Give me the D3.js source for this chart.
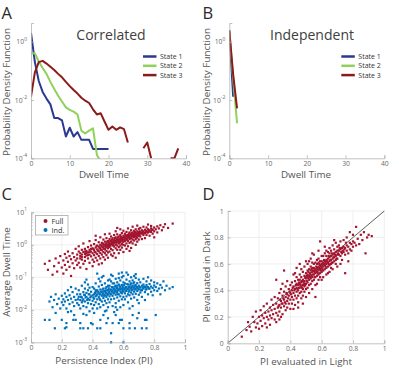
<!DOCTYPE html>
<html>
<head>
<meta charset="utf-8">
<script src="https://cdnjs.cloudflare.com/ajax/libs/d3/7.8.5/d3.min.js"></script>
<style>
body { margin: 0; background: #fff; }
svg { display: block; font-family: "Open Sans", sans-serif; }
</style>
</head>
<body>
<div id="canvas"></div>
<script>
"use strict"

/* ---- panel A / B : dwell time histograms (probability density) ---- */
let stateNames = ["State 1", "State 2", "State 3"];
let dwellTicks = [0, 10, 20, 30, 40];
let pdfTicks = [1e-4, 1e-2, 1];

let corrState1 = [2.0, 0.2, 0.045, 0.019, 0.0112, 0.0071, 0.0024, 0.0024, 0.002, 0.00056, 0.00112,
    0.00056, 0.00079, 0.00043, 0.00043, 0.00043, 0.00021, 0.00021, 0.00021, 0.00021, 0.00021];
let corrState2 = [0.4, 0.4, 0.21, 0.126, 0.079, 0.042, 0.024, 0.014, 0.0089, 0.0056, 0.0046,
    0.004, 0.0032, 0.00089, 0.00071, 0.00089, 0.00107, 0.00013, 0.00008];
let corrState3 = [0.013, 0.089, 0.2, 0.22, 0.178, 0.138, 0.107, 0.079, 0.06, 0.042, 0.03,
    0.022, 0.0166, 0.012, 0.0095, 0.0079, 0.0048, 0.0032, 0.0035, 0.0018, 0.00095,
    0.00123, 0.00095, 0.00115, 0.001, 0.00035, null, null, null, 0.00022, 0.00035,
    0.0001, null, null, null, null, 0.0001, 0.0001, 0.00022];

let indState1 = [2.5, 0.013];
let indState2 = [2.3, 0.055, 0.0016];
let indState3 = [2.4, 0.075, 0.0052];

/* ---- panel C : persistence index vs average dwell time ---- */
let scatterLegend = ["Full", "Ind."];
let piTicks = [0, 0.2, 0.4, 0.6, 0.8, 1];
let avgDwellTicks = [1e-3, 1e-2, 1e-1, 1, 10];

let fullPoints = [
[0.09,0.26],[0.11,0.17],[0.12,0.32],[0.14,0.12],[0.15,0.22],[0.16,0.38],[0.17,0.15],[0.18,0.28],[0.19,0.45],[0.2,0.2],
[0.21,0.33],[0.21,0.13],[0.22,0.52],[0.22,0.24],[0.23,0.4],[0.23,0.17],[0.24,0.3],[0.24,0.62],[0.25,0.21],[0.25,0.45],
[0.26,0.36],[0.26,0.11],[0.27,0.55],[0.27,0.27],[0.28,0.42],[0.28,0.19],[0.29,0.75],[0.29,0.33],[0.3,0.5],[0.3,0.24],
[0.3,0.38],[0.31,0.62],[0.31,0.28],[0.31,0.9],[0.32,0.45],[0.32,0.2],[0.32,0.55],[0.33,0.35],[0.33,0.7],[0.33,0.5],
[0.34,0.26],[0.34,0.6],[0.34,1.1],[0.35,0.42],[0.35,0.75],[0.35,0.52],[0.35,0.32],[0.36,0.65],[0.36,0.18],[0.36,0.47],
[0.37,0.85],[0.37,0.58],[0.37,0.38],[0.38,0.7],[0.38,0.5],[0.38,1.3],[0.38,0.28],[0.39,0.62],[0.39,0.44],[0.39,0.95],
[0.4,0.55],[0.4,0.35],[0.4,0.78],[0.4,0.22],
[0.41,0.68],[0.41,0.48],[0.41,1.05],[0.41,0.3],[0.42,0.82],[0.42,0.58],[0.42,1.4],[0.42,0.4],[0.43,0.72],[0.43,0.95],
[0.43,0.52],[0.43,0.33],[0.44,0.88],[0.44,0.63],[0.44,1.2],[0.44,0.45],[0.45,0.78],[0.45,1.0],[0.45,0.56],[0.45,1.7],
[0.45,0.38],[0.46,0.9],[0.46,0.68],[0.46,1.15],[0.46,0.5],[0.46,0.27],[0.47,0.82],[0.47,1.05],[0.47,0.6],[0.47,1.45],
[0.47,0.42],[0.48,0.95],[0.48,0.72],[0.48,1.25],[0.48,0.55],[0.48,2.1],[0.48,0.35],[0.49,0.88],[0.49,1.1],[0.49,0.65],
[0.49,1.6],[0.49,0.48],[0.5,1.0],[0.5,0.78],[0.5,1.3],[0.5,0.58],[0.5,0.9],[0.5,0.4],[0.44,0.25],[0.42,1.9],
[0.51,1.15],[0.51,0.85],[0.51,1.5],[0.51,0.62],[0.51,2.2],[0.52,1.05],[0.52,1.3],[0.52,0.75],[0.52,1.8],[0.52,0.5],
[0.53,1.2],[0.53,0.95],[0.53,1.6],[0.53,0.68],[0.53,1.1],[0.54,1.4],[0.54,0.88],[0.54,2.0],[0.54,1.15],[0.54,0.55],
[0.55,1.3],[0.55,1.0],[0.55,1.7],[0.55,0.78],[0.55,2.6],[0.55,0.4],[0.56,1.25],[0.56,1.5],[0.56,0.95],[0.56,2.1],
[0.56,0.7],[0.57,1.4],[0.57,1.1],[0.57,1.8],[0.57,0.85],[0.57,1.25],[0.57,0.55],[0.58,1.5],[0.58,1.2],[0.58,2.0],
[0.58,0.95],[0.58,3.0],[0.58,0.7],[0.59,1.35],[0.59,1.65],[0.59,1.05],[0.59,2.3],[0.59,0.82],[0.6,1.55],[0.6,1.25],
[0.6,1.9],[0.6,1.0],[0.6,2.7],[0.6,0.6],[0.53,0.45],[0.56,3.3],[0.51,1.0],[0.59,1.45],
[0.61,1.7],[0.61,1.3],[0.61,2.2],[0.61,0.95],[0.62,1.85],[0.62,1.5],[0.62,2.5],[0.62,1.1],[0.62,0.75],[0.63,1.65],
[0.63,2.0],[0.63,1.3],[0.63,3.2],[0.63,0.9],[0.64,1.9],[0.64,1.5],[0.64,2.4],[0.64,1.15],[0.64,1.75],[0.65,2.1],
[0.65,1.6],[0.65,2.8],[0.65,1.25],[0.65,0.8],[0.66,1.95],[0.66,2.4],[0.66,1.45],[0.66,3.6],[0.66,1.1],[0.67,2.2],
[0.67,1.75],[0.67,2.7],[0.67,1.35],[0.67,2.0],[0.68,2.3],[0.68,1.85],[0.68,3.0],[0.68,1.5],[0.68,1.0],[0.69,2.1],
[0.69,2.6],[0.69,1.65],[0.69,3.9],[0.69,1.25],[0.7,2.4],[0.7,1.9],[0.7,3.1],[0.7,1.45],[0.7,2.15],[0.64,0.65],
[0.71,2.5],[0.71,1.8],[0.71,3.3],[0.72,2.2],[0.72,2.8],[0.72,1.5],[0.73,2.6],[0.73,3.6],[0.73,2.0],[0.74,2.9],
[0.74,2.3],[0.74,1.6],[0.75,2.7],[0.75,3.4],[0.75,2.0],[0.76,3.0],[0.76,2.4],[0.76,4.2],[0.77,2.8],[0.77,1.9],
[0.78,3.2],[0.78,2.5],[0.78,3.8],[0.79,2.9],[0.79,2.2],[0.8,3.4],[0.8,2.6],[0.8,1.7],
[0.81,3.0],[0.82,3.7],[0.82,2.4],[0.83,3.2],[0.84,4.0],[0.85,2.8],[0.86,3.5],[0.87,4.3],[0.89,3.3],[0.92,4.5],
// dense core
[0.405,0.74],[0.415,0.6],[0.425,0.9],[0.435,0.66],[0.445,0.78],[0.455,0.95],[0.455,0.7],[0.465,0.84],[0.465,1.1],[0.475,0.75],
[0.475,0.95],[0.485,1.05],[0.485,0.82],[0.495,0.98],[0.495,1.25],[0.505,0.88],[0.505,1.12],[0.515,1.3],[0.515,0.95],[0.525,1.15],
[0.525,1.45],[0.535,1.0],[0.535,1.3],[0.545,1.22],[0.545,1.6],[0.555,1.15],[0.555,1.45],[0.565,1.35],[0.565,1.7],[0.575,1.2],
[0.575,1.55],[0.585,1.4],[0.585,1.75],[0.595,1.25],[0.595,1.6],[0.605,1.45],[0.605,1.8],[0.615,1.55],[0.615,2.0],[0.625,1.4],
[0.625,1.7],[0.635,1.8],[0.635,2.2],[0.645,1.6],[0.645,2.0],[0.655,1.85],[0.655,2.3],[0.665,1.7],[0.665,2.1],[0.675,1.95],
[0.675,2.45],[0.685,2.15],[0.685,1.75],[0.695,2.35],[0.695,1.95],[0.705,2.6],[0.705,2.05],[0.715,2.3],[0.725,2.5],[0.735,2.3],
[0.745,2.55],[0.755,2.4],[0.765,2.7],[0.775,2.5],[0.785,2.9],[0.38,0.6],[0.39,0.75],[0.37,0.48],[0.36,0.56],[0.35,0.62],
[0.33,0.42],[0.32,0.38]
];

let indPoints = [
[0.12,0.018],[0.13,0.025],[0.14,0.012],[0.15,0.02],[0.16,0.03],[0.17,0.015],[0.18,0.022],[0.19,0.011],[0.2,0.027],[0.2,0.017],
[0.21,0.021],[0.21,0.014],[0.22,0.032],[0.22,0.018],[0.23,0.025],[0.23,0.011],[0.24,0.04],[0.24,0.02],[0.25,0.015],[0.25,0.028],
[0.26,0.022],[0.26,0.009],[0.27,0.035],[0.27,0.017],[0.28,0.025],[0.28,0.013],[0.29,0.045],[0.29,0.02],[0.3,0.03],[0.3,0.016],
[0.26,0.05],[0.24,0.0085],
[0.31,0.025],[0.31,0.014],[0.31,0.04],[0.32,0.02],[0.32,0.03],[0.32,0.011],[0.33,0.055],[0.33,0.024],[0.33,0.017],[0.34,0.035],
[0.34,0.021],[0.34,0.013],[0.35,0.028],[0.35,0.045],[0.35,0.018],[0.35,0.07],[0.36,0.025],[0.36,0.033],[0.36,0.012],[0.37,0.022],
[0.37,0.04],[0.37,0.016],[0.37,0.06],[0.38,0.03],[0.38,0.02],[0.38,0.009],[0.38,0.048],[0.39,0.026],[0.39,0.036],[0.39,0.015],
[0.4,0.028],[0.4,0.05],[0.4,0.019],[0.4,0.011],[0.36,0.085],[0.34,0.0075],
[0.41,0.03],[0.41,0.022],[0.41,0.045],[0.41,0.014],[0.42,0.035],[0.42,0.026],[0.42,0.065],[0.42,0.017],[0.43,0.03],[0.43,0.04],
[0.43,0.021],[0.43,0.011],[0.44,0.034],[0.44,0.052],[0.44,0.025],[0.44,0.015],[0.44,0.09],[0.45,0.03],[0.45,0.042],[0.45,0.02],
[0.45,0.075],[0.45,0.012],[0.46,0.036],[0.46,0.027],[0.46,0.058],[0.46,0.018],[0.47,0.032],[0.47,0.045],[0.47,0.023],[0.47,0.014],
[0.47,0.11],[0.48,0.038],[0.48,0.028],[0.48,0.065],[0.48,0.019],[0.48,0.009],[0.49,0.034],[0.49,0.05],[0.49,0.025],[0.49,0.016],
[0.5,0.04],[0.5,0.03],[0.5,0.08],[0.5,0.021],[0.5,0.012],[0.46,0.1],[0.43,0.13],[0.49,0.0095],[0.42,0.04],[0.5,0.055],
[0.51,0.036],[0.51,0.026],[0.51,0.055],[0.51,0.017],[0.52,0.042],[0.52,0.03],[0.52,0.075],[0.52,0.021],[0.53,0.038],[0.53,0.05],
[0.53,0.027],[0.53,0.013],[0.53,0.11],[0.54,0.045],[0.54,0.033],[0.54,0.065],[0.54,0.022],[0.55,0.04],[0.55,0.055],[0.55,0.029],
[0.55,0.09],[0.55,0.016],[0.56,0.047],[0.56,0.035],[0.56,0.07],[0.56,0.024],[0.56,0.01],[0.57,0.042],[0.57,0.06],[0.57,0.03],
[0.57,0.13],[0.57,0.019],[0.58,0.05],[0.58,0.037],[0.58,0.08],[0.58,0.026],[0.59,0.044],[0.59,0.058],[0.59,0.032],[0.59,0.1],
[0.59,0.021],[0.6,0.048],[0.6,0.036],[0.6,0.07],[0.6,0.025],[0.6,0.014],[0.52,0.12],[0.58,0.012],[0.54,0.0085],[0.51,0.085],
[0.57,0.095],[0.53,0.065],[0.55,0.012],[0.59,0.14],[0.56,0.055],[0.6,0.11],
[0.61,0.045],[0.61,0.032],[0.61,0.065],[0.61,0.021],[0.62,0.05],[0.62,0.038],[0.62,0.085],[0.62,0.026],[0.63,0.043],[0.63,0.06],
[0.63,0.03],[0.63,0.12],[0.63,0.017],[0.64,0.052],[0.64,0.04],[0.64,0.075],[0.64,0.028],[0.65,0.047],[0.65,0.065],[0.65,0.034],
[0.65,0.1],[0.65,0.022],[0.66,0.055],[0.66,0.042],[0.66,0.08],[0.66,0.03],[0.66,0.013],[0.67,0.048],[0.67,0.07],[0.67,0.036],
[0.67,0.024],[0.68,0.058],[0.68,0.044],[0.68,0.095],[0.68,0.031],[0.69,0.05],[0.69,0.066],[0.69,0.038],[0.69,0.02],[0.7,0.055],
[0.7,0.042],[0.7,0.085],[0.7,0.029],[0.62,0.14],[0.68,0.125],[0.64,0.011],[0.7,0.016],[0.67,0.11],
[0.71,0.048],[0.71,0.034],[0.71,0.07],[0.72,0.055],[0.72,0.04],[0.72,0.025],[0.73,0.06],[0.73,0.045],[0.73,0.09],[0.74,0.05],
[0.74,0.035],[0.74,0.02],[0.75,0.058],[0.75,0.043],[0.75,0.075],[0.76,0.05],[0.76,0.03],[0.76,0.1],[0.77,0.045],[0.77,0.062],
[0.78,0.052],[0.78,0.036],[0.78,0.08],[0.79,0.047],[0.79,0.028],[0.8,0.056],[0.8,0.04],[0.8,0.07],
[0.81,0.05],[0.82,0.038],[0.82,0.065],[0.83,0.045],[0.84,0.03],[0.84,0.058],[0.85,0.048],[0.86,0.075],[0.87,0.04],[0.88,0.055],
[0.9,0.045],[0.92,0.05],
// sparse rows below the band
[0.09,0.0049],[0.155,0.0027],[0.16,0.008],[0.22,0.0027],[0.23,0.0039],[0.23,0.0029],[0.275,0.0049],[0.29,0.0049],[0.32,0.0039],[0.32,0.0027],
[0.34,0.0027],[0.37,0.0027],[0.39,0.0039],[0.4,0.0036],[0.43,0.0027],[0.45,0.0049],[0.45,0.0027],[0.49,0.0039],[0.52,0.0019],[0.52,0.001],
[0.53,0.0039],[0.57,0.0039],[0.578,0.0049],[0.59,0.0049],[0.6,0.0027],[0.6,0.001],[0.64,0.0039],[0.64,0.0027],[0.675,0.0027],[0.69,0.0055],
[0.72,0.0027],[0.74,0.0049],[0.75,0.0027],[0.75,0.0049],[0.81,0.0069],[0.12,0.0049],[0.41,0.008],[0.47,0.0069],[0.55,0.0069],[0.66,0.0069],
[0.7,0.008],[0.36,0.0069],[0.28,0.0069],[0.2,0.0049],[0.5,0.0055],
// dense core
[0.405,0.024],[0.415,0.033],[0.425,0.028],[0.435,0.036],[0.445,0.022],[0.445,0.03],[0.455,0.036],[0.465,0.031],[0.465,0.042],[0.475,0.027],
[0.475,0.037],[0.485,0.033],[0.485,0.045],[0.495,0.029],[0.495,0.04],[0.505,0.034],[0.505,0.046],[0.515,0.031],[0.515,0.041],[0.525,0.036],
[0.525,0.05],[0.535,0.032],[0.535,0.043],[0.545,0.038],[0.545,0.052],[0.555,0.034],[0.555,0.046],[0.565,0.04],[0.565,0.03],[0.575,0.045],
[0.575,0.055],[0.585,0.034],[0.585,0.043],[0.595,0.05],[0.595,0.038],[0.605,0.042],[0.605,0.058],[0.615,0.038],[0.615,0.05],[0.625,0.044],
[0.625,0.062],[0.635,0.036],[0.635,0.05],[0.645,0.046],[0.645,0.06],[0.655,0.04],[0.655,0.052],[0.665,0.048],[0.665,0.065],[0.675,0.042],
[0.675,0.055],[0.685,0.05],[0.695,0.045],[0.705,0.05],[0.715,0.04],[0.725,0.048],[0.735,0.052],[0.745,0.042],[0.755,0.05],[0.765,0.045],
[0.385,0.024],[0.375,0.03],[0.365,0.02],[0.355,0.024],[0.345,0.029],[0.325,0.025],[0.305,0.021],[0.335,0.019]
];

/* ---- panel D : PI in light vs PI in dark ---- */
let unitTicks = [0, 0.2, 0.4, 0.6, 0.8, 1];
let lightDarkPoints = [
[0.09,0.05],[0.12,0.1],[0.13,0.16],[0.14,0.125],[0.15,0.09],[0.16,0.2],[0.17,0.16],[0.18,0.12],[0.18,0.24],[0.19,0.15],[0.2,0.2],[0.2,0.11],
[0.21,0.17],[0.21,0.25],[0.22,0.13],[0.22,0.21],[0.23,0.19],[0.23,0.28],[0.24,0.15],[0.24,0.23],[0.25,0.2],[0.25,0.3],[0.25,0.12],[0.26,0.24],
[0.26,0.18],[0.27,0.27],[0.27,0.21],[0.27,0.14],[0.28,0.25],[0.28,0.33],[0.28,0.19],[0.29,0.22],[0.29,0.29],[0.3,0.26],[0.3,0.18],[0.3,0.35],
[0.31,0.23],[0.31,0.3],[0.31,0.48],[0.31,0.16],[0.32,0.27],[0.32,0.34],[0.32,0.21],[0.33,0.29],[0.33,0.38],[0.33,0.24],[0.33,0.18],[0.34,0.32],
[0.34,0.27],[0.34,0.41],[0.35,0.3],[0.35,0.36],[0.35,0.22],[0.35,0.45],[0.36,0.33],[0.36,0.28],[0.36,0.55],[0.36,0.39],[0.37,0.35],[0.37,0.3],
[0.37,0.25],[0.37,0.43],[0.38,0.37],[0.38,0.32],[0.38,0.47],[0.38,0.27],[0.39,0.36],[0.39,0.41],[0.39,0.3],[0.4,0.38],[0.4,0.33],[0.4,0.44],
[0.4,0.26],[0.34,0.2],
[0.41,0.4],[0.41,0.35],[0.41,0.46],[0.41,0.3],[0.42,0.38],[0.42,0.43],[0.42,0.33],[0.42,0.52],[0.43,0.41],[0.43,0.36],[0.43,0.47],[0.43,0.29],
[0.44,0.42],[0.44,0.39],[0.44,0.5],[0.44,0.34],[0.44,0.57],[0.45,0.44],[0.45,0.4],[0.45,0.48],[0.45,0.36],[0.45,0.31],[0.46,0.45],[0.46,0.42],
[0.46,0.52],[0.46,0.38],[0.46,0.6],[0.47,0.46],[0.47,0.43],[0.47,0.5],[0.47,0.39],[0.47,0.34],[0.48,0.48],[0.48,0.44],[0.48,0.54],[0.48,0.41],
[0.48,0.36],[0.49,0.47],[0.49,0.51],[0.49,0.43],[0.49,0.58],[0.49,0.39],[0.5,0.49],[0.5,0.45],[0.5,0.53],[0.5,0.41],[0.5,0.35],[0.5,0.62],
[0.43,0.53],[0.47,0.56],[0.45,0.27],[0.42,0.26],[0.48,0.3],[0.44,0.45],[0.46,0.48],[0.49,0.45],
[0.51,0.5],[0.51,0.46],[0.51,0.55],[0.51,0.42],[0.51,0.6],[0.52,0.51],[0.52,0.48],[0.52,0.56],[0.52,0.44],[0.52,0.38],[0.53,0.52],[0.53,0.49],
[0.53,0.58],[0.53,0.45],[0.53,0.64],[0.54,0.54],[0.54,0.5],[0.54,0.57],[0.54,0.47],[0.54,0.41],[0.55,0.55],[0.55,0.52],[0.55,0.6],[0.55,0.48],
[0.55,0.67],[0.56,0.56],[0.56,0.53],[0.56,0.61],[0.56,0.5],[0.56,0.35],[0.57,0.57],[0.57,0.54],[0.57,0.63],[0.57,0.51],[0.57,0.45],[0.58,0.58],
[0.58,0.55],[0.58,0.64],[0.58,0.52],[0.58,0.7],[0.59,0.59],[0.59,0.56],[0.59,0.62],[0.59,0.53],[0.59,0.77],[0.6,0.6],[0.6,0.57],[0.6,0.66],
[0.6,0.54],[0.6,0.48],[0.52,0.62],[0.54,0.68],[0.56,0.44],[0.58,0.48],[0.53,0.55],[0.55,0.57],[0.57,0.6],[0.59,0.5],[0.51,0.52],[0.6,0.62],
[0.54,0.61],[0.58,0.61],
[0.61,0.61],[0.61,0.58],[0.61,0.66],[0.61,0.55],[0.61,0.5],[0.62,0.62],[0.62,0.59],[0.62,0.68],[0.62,0.56],[0.63,0.63],[0.63,0.6],[0.63,0.7],
[0.63,0.57],[0.63,0.52],[0.64,0.64],[0.64,0.61],[0.64,0.69],[0.64,0.58],[0.65,0.65],[0.65,0.62],[0.65,0.72],[0.65,0.59],[0.65,0.54],[0.66,0.66],
[0.66,0.63],[0.66,0.7],[0.66,0.6],[0.67,0.67],[0.67,0.64],[0.67,0.74],[0.67,0.61],[0.67,0.56],[0.68,0.68],[0.68,0.65],[0.68,0.71],[0.68,0.62],
[0.69,0.69],[0.69,0.66],[0.69,0.76],[0.69,0.63],[0.7,0.7],[0.7,0.67],[0.7,0.73],[0.7,0.64],[0.7,0.58],[0.62,0.73],[0.64,0.53],[0.66,0.57],
[0.68,0.78],[0.63,0.66],[0.65,0.68],[0.69,0.6],
[0.71,0.7],[0.71,0.67],[0.71,0.74],[0.72,0.71],[0.72,0.66],[0.72,0.77],[0.73,0.72],[0.73,0.68],[0.73,0.63],[0.74,0.73],[0.74,0.69],[0.74,0.78],
[0.75,0.72],[0.75,0.53],[0.75,0.67],[0.76,0.74],[0.76,0.7],[0.76,0.8],[0.77,0.73],[0.77,0.68],[0.78,0.76],[0.78,0.84],[0.78,0.71],[0.79,0.75],
[0.79,0.7],[0.8,0.77],[0.8,0.73],[0.8,0.82],[0.72,0.6],[0.77,0.62],
[0.81,0.76],[0.82,0.88],[0.82,0.74],[0.83,0.79],[0.84,0.75],[0.85,0.82],[0.86,0.78],[0.87,0.84],[0.88,0.68],[0.89,0.8],[0.9,0.82],[0.92,0.81],
// dense core
[0.405,0.37],[0.415,0.42],[0.425,0.4],[0.435,0.44],[0.445,0.41],[0.455,0.46],[0.455,0.42],[0.465,0.44],[0.475,0.47],[0.475,0.42],
[0.485,0.46],[0.495,0.5],[0.495,0.44],[0.505,0.47],[0.505,0.51],[0.515,0.49],[0.515,0.54],[0.525,0.5],[0.525,0.53],[0.535,0.51],
[0.535,0.56],[0.545,0.52],[0.545,0.55],[0.555,0.54],[0.555,0.5],[0.565,0.55],[0.565,0.58],[0.575,0.53],[0.575,0.56],[0.585,0.57],
[0.585,0.6],[0.595,0.55],[0.595,0.58],[0.605,0.59],[0.605,0.56],[0.615,0.6],[0.615,0.63],[0.625,0.58],[0.625,0.61],[0.635,0.62],
[0.645,0.6],[0.645,0.66],[0.655,0.63],[0.665,0.61],[0.665,0.68],[0.675,0.65],[0.685,0.67],[0.695,0.64],[0.705,0.68],[0.715,0.72],
[0.725,0.69],[0.735,0.7],[0.745,0.71],[0.755,0.76],[0.385,0.34],[0.375,0.38],[0.365,0.31],[0.355,0.34],[0.345,0.3],[0.335,0.33],
[0.325,0.28],[0.395,0.39]
];

/* colours */
let stateColors = ["#2b3990", "#8fd15a", "#8b1a1a"];
let fullColor = "#a2142f";
let indColor = "#0072bd";
let axisGray = "#b3b3b3";
let tickTextGray = "#6b6b6b";
let titleGray = "#404040";
let gridGray = "#ebebeb";
let dotSize = 2.2;

let drawing = d3.select("#canvas")
    .append("svg")
    .attr("width", 415)
    .attr("height", 368);

/* log tick label "10^k" */
function powerLabel(sel) {
    sel.each(function (d) {
        let t = d3.select(this);
        t.text("10");
        t.append("tspan")
            .attr("dy", -3.5)
            .attr("font-size", 5)
            .text(Math.round(Math.log10(d)));
    });
}

function styleAxis(g) {
    g.select(".domain").attr("stroke", axisGray).attr("stroke-width", 0.8);
    g.selectAll(".tick line").attr("stroke", axisGray).attr("stroke-width", 0.8);
    g.selectAll(".tick text").attr("fill", tickTextGray).attr("font-size", 6.8)
        .attr("font-family", "'Open Sans', sans-serif");
}

function panelLetter(letter, x, y) {
    drawing.append("text").attr("x", x).attr("y", y)
        .attr("font-size", 16.5).attr("fill", "#2a2a2a").text(letter);
}

function axisLabel(text, x, y, rotate) {
    drawing.append("text")
        .attr("transform", "translate(" + x + "," + y + ")" + (rotate ? " rotate(-90)" : ""))
        .attr("text-anchor", "middle")
        .attr("font-size", 9.8)
        .attr("fill", "#555")
        .text(text);
}

function scatterDots(points, xs, ys, color) {
    drawing.append("g").selectAll("rect").data(points).enter().append("rect")
        .attr("x", d => xs(d[0]) - dotSize / 2).attr("y", d => ys(d[1]) - dotSize / 2)
        .attr("width", dotSize).attr("height", dotSize).attr("fill", color);
}

/* ================= panels A and B ================= */
function histPanel(left, series, title, titleX, labelX, letter, letterX, yLabelX, clipId) {
    let x = d3.scaleLinear().domain([0, 40]).range([left, left + 155]);
    let y = d3.scaleLog().domain([1e-4, 4.4]).range([158.3, 23]);

    drawing.append("clipPath").attr("id", clipId)
        .append("rect").attr("x", left).attr("y", 23).attr("width", 156).attr("height", 135.8);

    let lineGen = d3.line()
        .defined(d => d[1] != null)
        .x(d => x(d[0]))
        .y(d => y(d[1]));

    series.forEach((values, i) => {
        drawing.append("path")
            .datum(values.map((v, k) => [k, v]))
            .attr("clip-path", "url(#" + clipId + ")")
            .attr("fill", "none")
            .attr("stroke", stateColors[i])
            .attr("stroke-width", 2)
            .attr("stroke-linejoin", "round")
            .attr("d", lineGen);
    });

    drawing.append("g")
        .attr("transform", "translate(0,158.3)")
        .call(d3.axisBottom(x).tickValues(dwellTicks).tickSize(-3).tickPadding(3))
        .call(styleAxis);

    drawing.append("g")
        .attr("transform", "translate(" + left + ",0)")
        .call(d3.axisLeft(y).tickValues(pdfTicks).tickSize(-3).tickPadding(4).tickFormat(""))
        .call(styleAxis)
        .call(g => g.selectAll(".tick text").call(powerLabel));

    drawing.append("text").attr("x", titleX).attr("y", 40)
        .attr("text-anchor", "middle").attr("font-size", 14).attr("fill", titleGray).text(title);

    /* legend */
    let legendX = left + 112;
    stateNames.forEach((name, i) => {
        let ly = 56.5 + i * 9.3;
        drawing.append("line")
            .attr("x1", legendX).attr("x2", legendX + 13.5)
            .attr("y1", ly).attr("y2", ly)
            .attr("stroke", stateColors[i]).attr("stroke-width", 2.5);
        drawing.append("text").attr("x", legendX + 17).attr("y", ly + 2.5)
            .attr("font-size", 7).attr("fill", "#333").text(name);
    });

    axisLabel("Dwell Time", labelX, 178, false);
    axisLabel("Probability Density Function", yLabelX, 92, true);
    panelLetter(letter, letterX, 18.5);
}

histPanel(31, [corrState1, corrState2, corrState3], "Correlated", 111, 104, "A", 1.5, 9.5, "clipA");
histPanel(229.3, [indState1, indState2, indState3], "Independent", 312, 306, "B", 202.5, 209.5, "clipB");

/* ================= panel C ================= */
let cx = d3.scaleLinear().domain([0, 1]).range([31, 185]);
let cy = d3.scaleLog().domain([1e-3, 10]).range([342.3, 212.3]);

/* grid */
drawing.append("g")
    .selectAll("line").data(piTicks.slice(1)).enter().append("line")
    .attr("x1", d => cx(d)).attr("x2", d => cx(d)).attr("y1", 212.3).attr("y2", 342.3)
    .attr("stroke", gridGray).attr("stroke-width", 0.8);
drawing.append("g")
    .selectAll("line").data(avgDwellTicks.slice(1)).enter().append("line")
    .attr("x1", 31).attr("x2", 185).attr("y1", d => cy(d)).attr("y2", d => cy(d))
    .attr("stroke", gridGray).attr("stroke-width", 0.8);

scatterDots(fullPoints, cx, cy, fullColor);
scatterDots(indPoints, cx, cy, indColor);

drawing.append("g")
    .attr("transform", "translate(0,342.3)")
    .call(d3.axisBottom(cx).tickValues(piTicks).tickSize(-3).tickPadding(3).tickFormat(d3.format("~g")))
    .call(styleAxis);

drawing.append("g")
    .attr("transform", "translate(31,0)")
    .call(d3.axisLeft(cy).tickValues(avgDwellTicks).tickSize(-3).tickPadding(4).tickFormat(""))
    .call(styleAxis)
    .call(g => g.selectAll(".tick text").call(powerLabel));

/* minor log ticks */
drawing.append("g")
    .attr("transform", "translate(31,0)")
    .call(d3.axisLeft(cy).tickValues(cy.ticks().filter(t => !avgDwellTicks.includes(t))).tickSize(-1.8).tickFormat(""))
    .call(styleAxis)
    .call(g => g.select(".domain").remove());

/* legend */
drawing.append("rect").attr("x", 35.5).attr("y", 215.5).attr("width", 32.5).attr("height", 19.5)
    .attr("fill", "#fff").attr("stroke", "#aaa").attr("stroke-width", 0.8);
[fullColor, indColor].forEach((c, i) => {
    drawing.append("circle").attr("cx", 45.5).attr("cy", 221 + i * 9).attr("r", 2).attr("fill", c);
    drawing.append("text").attr("x", 51.5).attr("y", 223.6 + i * 9)
        .attr("font-size", 7.3).attr("fill", "#333").text(scatterLegend[i]);
});

axisLabel("Persistence Index (PI)", 104, 363.5, false);
axisLabel("Average Dwell Time", 9.5, 272, true);
panelLetter("C", 1.5, 200);

/* ================= panel D ================= */
let dx = d3.scaleLinear().domain([0, 1]).range([227.7, 384.3]);
let dy = d3.scaleLinear().domain([0, 1]).range([343.3, 211]);

drawing.append("g")
    .selectAll("line").data(unitTicks.slice(1)).enter().append("line")
    .attr("x1", d => dx(d)).attr("x2", d => dx(d)).attr("y1", 211).attr("y2", 343.3)
    .attr("stroke", gridGray).attr("stroke-width", 0.8);
drawing.append("g")
    .selectAll("line").data(unitTicks.slice(1)).enter().append("line")
    .attr("x1", 227.7).attr("x2", 384.3).attr("y1", d => dy(d)).attr("y2", d => dy(d))
    .attr("stroke", gridGray).attr("stroke-width", 0.8);

/* identity line */
drawing.append("line")
    .attr("x1", dx(0)).attr("y1", dy(0)).attr("x2", dx(1)).attr("y2", dy(1))
    .attr("stroke", "#333").attr("stroke-width", 0.8);

scatterDots(lightDarkPoints, dx, dy, fullColor);

drawing.append("g")
    .attr("transform", "translate(0,343.3)")
    .call(d3.axisBottom(dx).tickValues(unitTicks).tickSize(-3).tickPadding(3).tickFormat(d3.format("~g")))
    .call(styleAxis);

drawing.append("g")
    .attr("transform", "translate(227.7,0)")
    .call(d3.axisLeft(dy).tickValues(unitTicks).tickSize(-3).tickPadding(4).tickFormat(d3.format("~g")))
    .call(styleAxis);

axisLabel("PI evaluated in Light", 306, 364.5, false);
axisLabel("PI evaluated in Dark", 209.5, 277, true);
panelLetter("D", 202.5, 200);
</script>
</body>
</html>
